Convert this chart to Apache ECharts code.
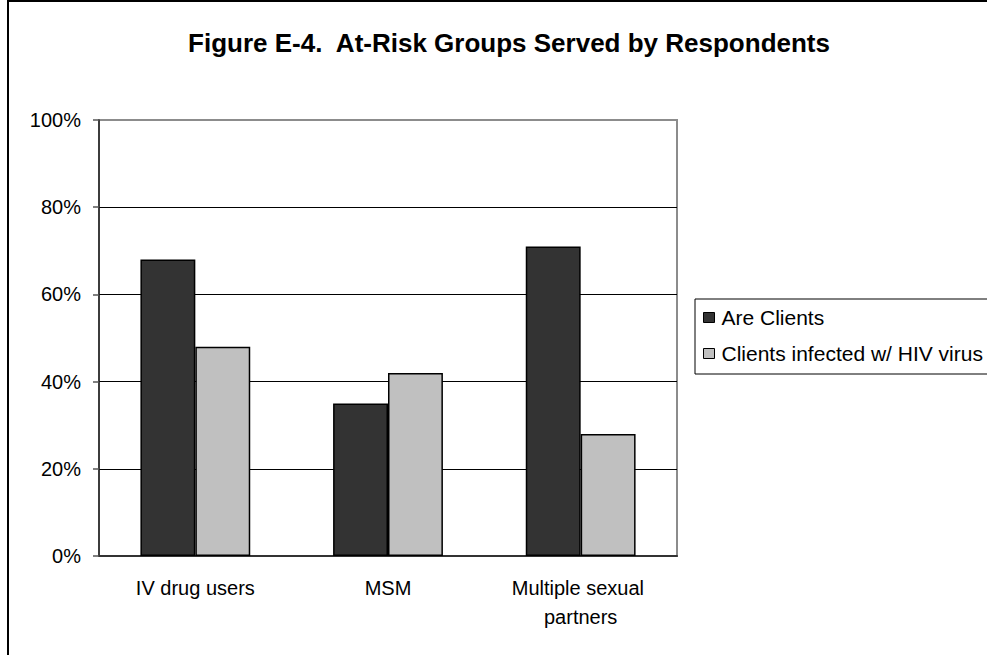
<!DOCTYPE html>
<html>
<head>
<meta charset="utf-8">
<script src="https://cdn.jsdelivr.net/npm/echarts@6/dist/echarts.min.js"></script>
<style>
  html, body { margin: 0; padding: 0; background: #fff; }
  #chart { width: 987px; height: 655px; }
</style>
</head>
<body>
<div id="chart"></div>
<script>
const titleText = 'Figure E-4.  At-Risk Groups Served by Respondents';
const categories = ['IV drug users', 'MSM', 'Multiple sexual partners'];
const seriesNames = ['Are Clients', 'Clients infected w/ HIV virus'];
const areClients = [68, 35, 71];
const infectedHiv = [48, 42, 28];
const yTicks = [0, 20, 40, 60, 80, 100];

const FONT = "'Liberation Sans', Arial, sans-serif";

const chart = echarts.init(document.getElementById('chart'), null, { renderer: 'svg' });

chart.setOption({
  animation: false,
  backgroundColor: '#fff',
  textStyle: { fontFamily: FONT, color: '#000' },
  title: {
    text: titleText,
    left: 504,
    top: 25,
    textAlign: 'center',
    textStyle: { fontFamily: FONT, fontSize: 26, fontWeight: 'bold', color: '#000' }
  },
  graphic: [{
    type: 'rect',
    z: -10,
    silent: true,
    shape: { x: 8, y: 1, width: 1200, height: 1000 },
    style: { fill: 'none', stroke: '#000', lineWidth: 2 }
  }],
  grid: {
    left: 99, right: 310, top: 120, bottom: 99,
    show: true, borderColor: '#8c8c8c', borderWidth: 2, backgroundColor: 'transparent'
  },
  legend: {
    data: seriesNames,
    orient: 'vertical',
    left: 695, top: 299,
    padding: [8, 30, 10, 8],
    itemWidth: 11, itemHeight: 10,
    itemGap: 15,
    itemStyle: { borderColor: '#000', borderWidth: 1 },
    borderColor: '#000', borderWidth: 1,
    icon: 'rect',
    textStyle: { fontFamily: FONT, fontSize: 21, color: '#000', padding: [0, 0, 0, 2] }
  },
  xAxis: {
    type: 'category',
    data: categories,
    axisLine: { lineStyle: { color: '#333', width: 2 } },
    axisTick: { show: false },
    axisLabel: {
      interval: 0, margin: 17, fontSize: 20, lineHeight: 29, color: '#000',
      width: 180, overflow: 'break', fontFamily: FONT
    }
  },
  yAxis: {
    type: 'value',
    min: 0, max: 100, interval: 20,
    axisLine: { show: true, lineStyle: { color: '#222', width: 1.5 } },
    axisTick: { show: true, length: 6, lineStyle: { color: '#555', width: 1.5 } },
    axisLabel: {
      margin: 18, fontSize: 20, color: '#000', fontFamily: FONT,
      formatter: v => yTicks.includes(v) ? v + '%' : ''
    },
    splitLine: {
      show: true,
      lineStyle: { color: ['#000', '#000', '#000', '#000', '#000', '#8c8c8c'], width: 1.2 }
    }
  },
  series: [
    {
      name: seriesNames[0], type: 'bar', data: areClients,
      barGap: '0%', barCategoryGap: '43%',
      itemStyle: { color: '#333333', borderColor: '#000', borderWidth: 1.5 }
    },
    {
      name: seriesNames[1], type: 'bar', data: infectedHiv,
      barGap: '0%', barCategoryGap: '43%',
      itemStyle: { color: '#c0c0c0', borderColor: '#000', borderWidth: 1.5 }
    }
  ]
});
</script>
</body>
</html>
